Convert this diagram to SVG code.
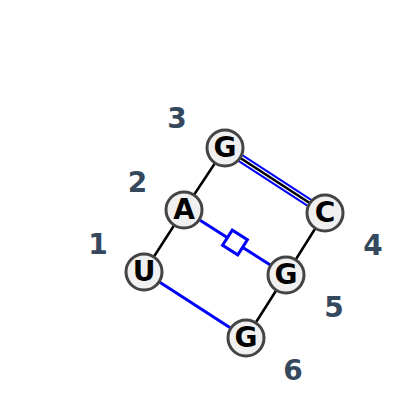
<svg xmlns="http://www.w3.org/2000/svg" width="400" height="415" viewBox="0 0 400 415">
<style>
.bb{stroke:#000;stroke-width:2.5;fill:none}
.bp{stroke:#0000ff;stroke-width:3;fill:none}
.nc{fill:#f0f0f0;stroke:#444;stroke-width:3}
.nt{font-family:"DejaVu Sans",sans-serif;font-weight:bold;font-size:28px;text-anchor:middle;fill:#000}
.lb{font-family:"DejaVu Sans",sans-serif;font-weight:bold;font-size:28px;text-anchor:middle;fill:#34495e}
</style>
<rect width="400" height="415" fill="#fff"/>
<g id="connectors">
<line class="bb" x1="144" y1="272" x2="184" y2="210"/>
<line class="bb" x1="184" y1="210" x2="225" y2="148"/>
<line class="bb" x1="325" y1="213" x2="286" y2="275"/>
<line class="bb" x1="286" y1="275" x2="246" y2="338"/>
<line stroke="#0000ff" stroke-width="9" x1="225" y1="148" x2="325" y2="213"/>
<line stroke="#fff" stroke-width="5" x1="225" y1="148" x2="325" y2="213"/>
<line stroke="#000" stroke-width="2.6" x1="225" y1="148" x2="325" y2="213"/>
<line class="bp" x1="184" y1="210" x2="286" y2="275"/>
<rect class="bp" x="-9" y="-9" width="18" height="18" transform="translate(235,242.5) rotate(32.5)" style="fill:#fff"/>
<line class="bp" x1="144" y1="272" x2="246" y2="338"/>
</g>
<g id="n1"><circle class="nc" cx="144" cy="272" r="18"/><text class="nt" x="144" y="280.5">U</text></g>
<g id="n2"><circle class="nc" cx="184" cy="210" r="18"/><text class="nt" x="184" y="218.5">A</text></g>
<g id="n3"><circle class="nc" cx="225" cy="148" r="18"/><text class="nt" x="225" y="156.5">G</text></g>
<g id="n4"><circle class="nc" cx="325" cy="213" r="18"/><text class="nt" x="325" y="221.5">C</text></g>
<g id="n5"><circle class="nc" cx="286" cy="275" r="18"/><text class="nt" x="286" y="283.5">G</text></g>
<g id="n6"><circle class="nc" cx="246" cy="338" r="18"/><text class="nt" x="246" y="346.5">G</text></g>
<g id="labels">
<text class="lb" x="98" y="254">1</text>
<text class="lb" x="137.5" y="192">2</text>
<text class="lb" x="177" y="128">3</text>
<text class="lb" x="373" y="255">4</text>
<text class="lb" x="334" y="317">5</text>
<text class="lb" x="293" y="380">6</text>
</g>
</svg>
